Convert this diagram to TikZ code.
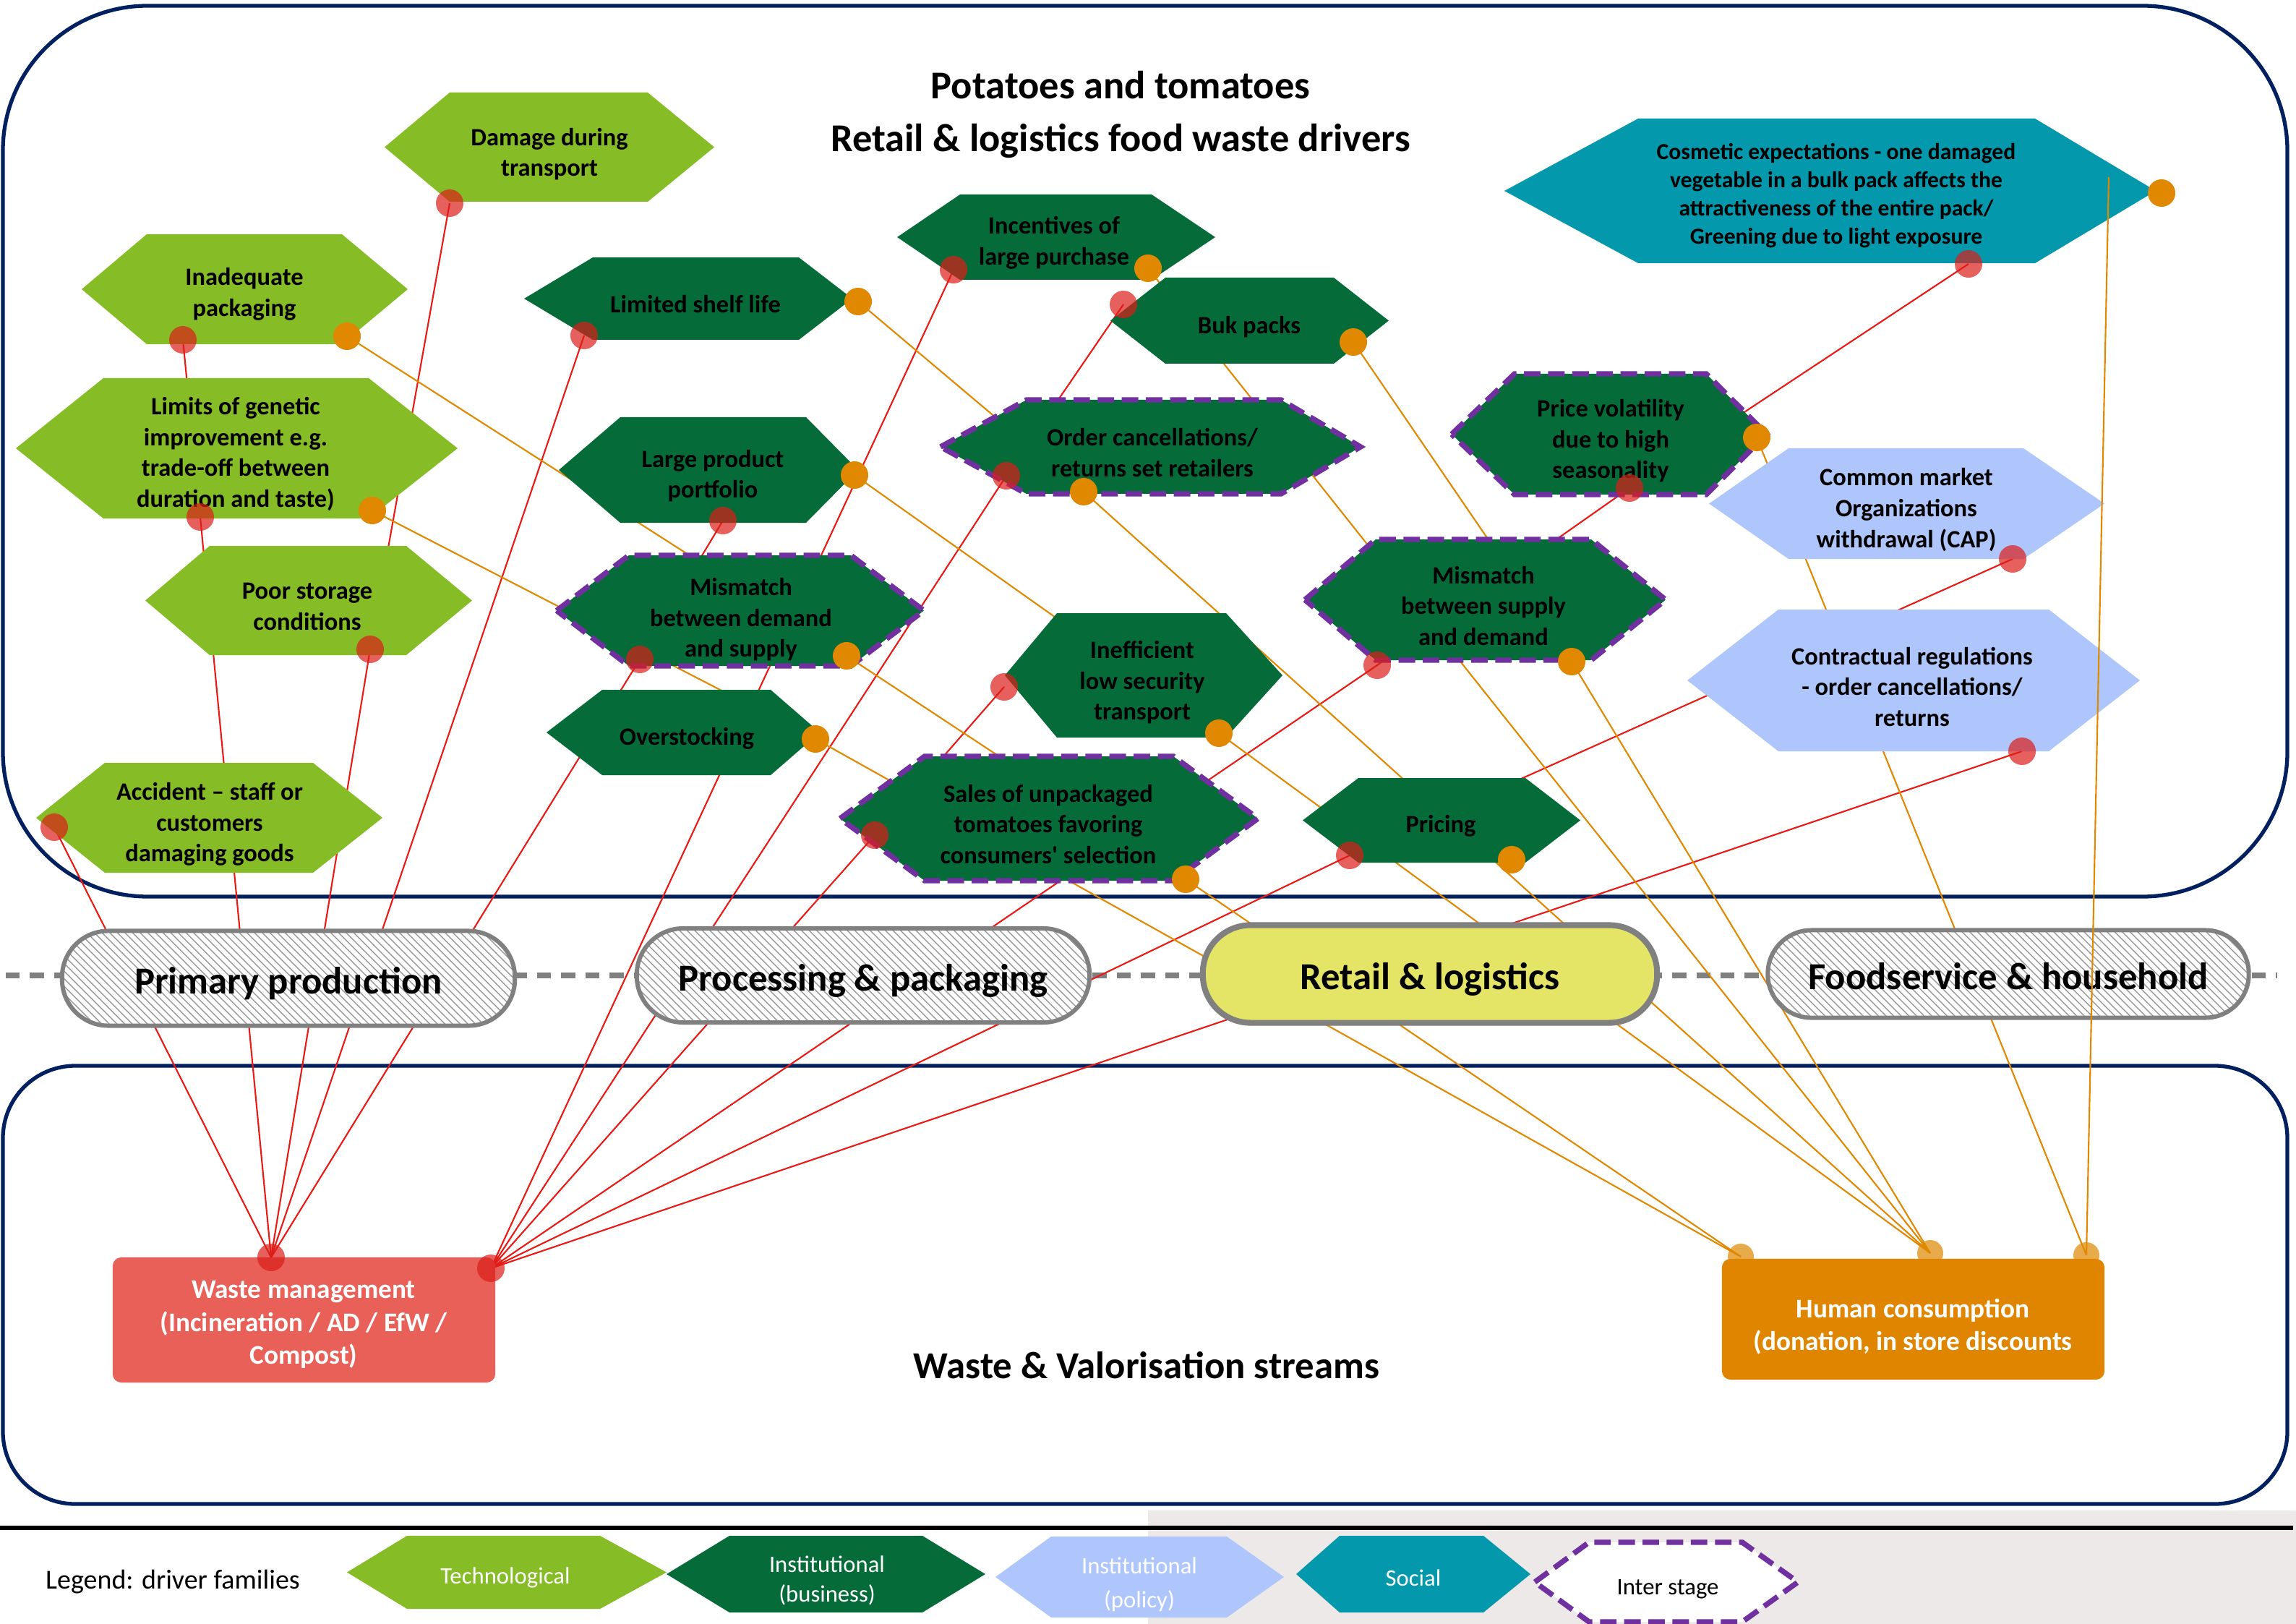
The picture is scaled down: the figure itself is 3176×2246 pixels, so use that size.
\documentclass[tikz,border=0pt]{standalone}
\usepackage{fontspec}
\setmainfont{Carlito}
\usetikzlibrary{patterns}
\definecolor{tech}{RGB}{134,188,37}
\definecolor{bus}{RGB}{5,108,57}
\definecolor{pol}{RGB}{174,198,252}
\definecolor{soc}{RGB}{3,152,171}
\definecolor{navy}{RGB}{0,32,96}
\definecolor{purp}{RGB}{112,48,160}
\definecolor{dotred}{RGB}{220,30,25}
\definecolor{dotor}{RGB}{223,136,0}
\definecolor{linered}{RGB}{235,25,20}
\definecolor{lineor}{RGB}{224,136,0}
\definecolor{wastec}{RGB}{232,96,88}
\definecolor{humanc}{RGB}{223,133,0}
\definecolor{retailc}{RGB}{228,228,102}
\definecolor{legbg}{RGB}{237,233,232}
\definecolor{stagegray}{RGB}{128,128,128}
\pgfdeclarelayer{bgl}
\pgfdeclarelayer{linel}
\pgfdeclarelayer{hexl}
\pgfsetlayers{bgl,linel,hexl,main}
\newcommand\hexa[7]{\path[#1] (#2,{(#6+#7)/2}) -- (#3,#6) -- (#4,#6) -- (#5,{(#6+#7)/2}) -- (#4,#7) -- (#3,#7) -- cycle;}
\tikzset{
 techhex/.style={fill=tech},
 bushex/.style={fill=bus},
 polhex/.style={fill=pol},
 sochex/.style={fill=soc},
 interhex/.style={draw=purp, line width=2.1pt, dash pattern=on 6.5pt off 3pt},
 hextext/.style={font=\bfseries\fontsize{9.8}{12.1}\selectfont, align=center, inner sep=0pt, text=black},
 legtext/.style={font=\fontsize{9.3}{11.5}\selectfont, align=center, inner sep=0pt, text=white},
 rdot/.style={circle, fill=dotred, fill opacity=0.7, minimum size=0.38cm, inner sep=0pt},
 odot/.style={circle, fill=dotor, minimum size=0.38cm, inner sep=0pt},
 hdot/.style={circle, fill=dotor, fill opacity=0.7, minimum size=0.36cm, inner sep=0pt},
 rline/.style={draw=linered, line width=0.6pt},
 oline/.style={draw=lineor, line width=0.6pt},
 stagefont/.style={font=\bfseries\fontsize{15}{18}\selectfont, text height=0.55cm, text depth=0.13cm},
 stagebox/.style={draw=stagegray, line width=1.7pt, rounded corners=0.64cm, preaction={fill=white}, pattern=north west lines, pattern color=gray!80, stagefont, inner sep=0pt},
 outbox/.style={rounded corners=0.12cm, inner sep=0pt},
 outtext/.style={text=white, font=\bfseries\fontsize{10.6}{12.9}\selectfont, align=center, inner sep=0pt},
}
\begin{document}
\begin{tikzpicture}[x=0.01cm,y=-0.01cm]
\useasboundingbox (0,0) rectangle (3176,2246);
\begin{pgfonlayer}{bgl}
 \fill[white] (0,0) rectangle (3176,2246);
 \fill[legbg] (1588,2089) rectangle (3176,2246);
 \draw[navy, line width=1.5pt, rounded corners=2cm] (4,8) rectangle (3164,1240);
 \draw[navy, line width=1.5pt, rounded corners=1cm] (4,1474) rectangle (3164,2080);
 \draw[stagegray, line width=2pt, dash pattern=on 5.5pt off 4pt] (8,1349) -- (3150,1349);
 \draw[black, line width=1.6pt] (0,2113) -- (3172,2113);
\end{pgfonlayer}

% titles
\node[font=\bfseries\fontsize{15.5}{21}\selectfont, anchor=base] (title1) at (1550,137) {Potatoes and tomatoes};
\node[font=\bfseries\fontsize{15.5}{21}\selectfont, anchor=base] (title2) at (1550,210) {Retail \& logistics food waste drivers};

% end points
\coordinate (A) at (375,1739);
\coordinate (B) at (679,1754);
\coordinate (H1) at (2408,1738);
\coordinate (H2) at (2670,1733);
\coordinate (H3) at (2886,1736);
\coordinate (cosTop) at (2917,245);

% hexagons
\begin{pgfonlayer}{hexl}
 \hexa{techhex}{532}{622}{896}{988}{128}{279}
 \hexa{techhex}{113}{203}{473}{564}{324}{476}
 \hexa{techhex}{22}{143}{510}{633}{523}{717}
 \hexa{techhex}{201}{290}{562}{653}{755}{906}
 \hexa{techhex}{50}{145}{433}{529}{1055}{1207}
 \hexa{bushex}{725}{820}{1105}{1179}{356}{470}
 \hexa{bushex}{1241}{1328}{1593}{1681}{269}{387}
 \hexa{bushex}{1536}{1612}{1845}{1921}{384}{503}
 \hexa{bushex}{773}{858}{1115}{1187}{577}{723}
 \hexa{bushex,interhex}{1301}{1420}{1772}{1882}{553}{683}
 \hexa{bushex,interhex}{770}{870}{1177}{1278}{768}{921}
 \hexa{bushex}{756}{833}{1066}{1134}{954}{1072}
 \hexa{bushex}{1390}{1462}{1696}{1774}{848}{1020}
 \hexa{bushex,interhex}{1162}{1279}{1623}{1740}{1046}{1218}
 \hexa{bushex,interhex}{1805}{1903}{2201}{2304}{746}{913}
 \hexa{bushex}{1802}{1879}{2110}{2186}{1076}{1193}
 \hexa{bushex,interhex}{2008}{2095}{2360}{2444}{517}{684}
 \hexa{sochex}{2081}{2266}{2815}{2982}{164}{364}
 \hexa{polhex}{2364}{2474}{2799}{2911}{620}{773}
 \hexa{polhex}{2334}{2460}{2834}{2960}{843}{1039}
 % legend
 \hexa{techhex}{480}{563}{830}{922}{2124}{2225}
 \hexa{bushex}{922}{1009}{1276}{1363}{2124}{2230}
 \hexa{polhex}{1377}{1454}{1697}{1776}{2125}{2237}
 \hexa{sochex}{1793}{1853}{2052}{2117}{2124}{2230}
 \hexa{fill=white,interhex}{2123}{2198}{2410}{2487}{2133}{2243}
\end{pgfonlayer}

% hexagon texts
\node[hextext] (t-dmg) at (760,213) {Damage during\\transport};
\node[hextext] (t-inad) at (338,407) {Inadequate\\packaging};
\node[hextext] (t-lim) at (326,628) {Limits of genetic\\improvement e.g.\\trade-off between\\duration and taste)};
\node[hextext] (t-poor) at (425,839) {Poor storage\\conditions};
\node[hextext] (t-acc) at (290,1140) {Accident – staff or\\customers\\damaging goods};
\node[hextext] (t-shelf) at (962,421) {Limited shelf life};
\node[hextext] (t-inc) at (1458,336) {Incentives of\\large purchase};
\node[hextext] (t-buk) at (1728,452) {Buk packs};
\node[hextext] (t-large) at (986,658) {Large product\\portfolio};
\node[hextext] (t-order) at (1594,626) {Order cancellations/\\returns set retailers};
\node[hextext] (t-mmL) at (1025,857) {Mismatch\\between demand\\and supply};
\node[hextext] (t-over) at (950,1021) {Overstocking};
\node[hextext] (t-ineff) at (1580,944) {Inefficient\\low security\\transport};
\node[hextext] (t-sales) at (1450,1140) {Sales of unpackaged\\tomatoes favoring\\consumers\textquotesingle{} selection};
\node[hextext] (t-mmR) at (2052,838) {Mismatch\\between supply\\and demand};
\node[hextext] (t-pricing) at (1993,1142) {Pricing};
\node[hextext] (t-pv) at (2228,610) {Price volatility\\due to high\\seasonality};
\node[hextext, font=\bfseries\fontsize{9}{11.1}\selectfont] (t-cos) at (2540,271) {Cosmetic expectations - one damaged\\vegetable in a bulk pack affects the\\attractiveness of the entire pack/\\Greening due to light exposure};
\node[hextext] (t-cap) at (2637,705) {Common market\\Organizations\\withdrawal (CAP)};
\node[hextext] (t-contr) at (2645,950) {Contractual regulations\\- order cancellations/\\returns};

% dots
\node[rdot] (r-dmg) at (622,281) {};
\node[rdot] (r-inad) at (253,470) {};
\node[rdot] (r-lim) at (277,715) {};
\node[rdot] (r-poor) at (512,898) {};
\node[rdot] (r-acc) at (75,1144) {};
\node[rdot] (r-shelf) at (808,464) {};
\node[rdot] (r-inc) at (1319,373) {};
\node[rdot] (r-buk) at (1554,421) {};
\node[rdot] (r-large) at (1000,720) {};
\node[rdot] (r-order) at (1392,658) {};
\node[rdot] (r-mmL) at (885,912) {};
\node[rdot] (r-ineff) at (1389,950) {};
\node[rdot] (r-sales) at (1210,1155) {};
\node[rdot] (r-mmR) at (1905,920) {};
\node[rdot] (r-pricing) at (1867,1183) {};
\node[rdot] (r-pv) at (2254,675) {};
\node[rdot] (r-cos) at (2723,365) {};
\node[rdot] (r-cap) at (2784,773) {};
\node[rdot] (r-contr) at (2797,1039) {};
\node[odot] (o-inad) at (480,465) {};
\node[odot] (o-lim) at (515,706) {};
\node[odot] (o-shelf) at (1187,417) {};
\node[odot] (o-inc) at (1588,371) {};
\node[odot] (o-buk) at (1872,473) {};
\node[odot] (o-large) at (1182,657) {};
\node[odot] (o-order) at (1499,680) {};
\node[odot] (o-mmL) at (1171,907) {};
\node[odot] (o-over) at (1128,1022) {};
\node[odot] (o-ineff) at (1686,1014) {};
\node[odot] (o-sales) at (1640,1216) {};
\node[odot] (o-mmR) at (2174,915) {};
\node[odot] (o-pricing) at (2091,1189) {};
\node[odot] (o-pv) at (2430,605) {};
\node[odot] (o-cos) at (2990,267) {};

% connectors
\begin{pgfonlayer}{linel}
 \draw[rline] (r-inad.center) -- (r-lim.center) -- (A);
 \draw[rline] (r-dmg.center) -- (r-poor.center) -- (A);
 \draw[rline] (r-acc.center) -- (A);
 \draw[rline] (r-shelf.center) -- (A);
 \draw[rline] (r-large.center) -- (r-mmL.center) -- (A);
 \draw[rline] (r-inc.center) -- (B);
 \draw[rline] (r-buk.center) -- (r-order.center) -- (B);
 \draw[rline] (r-ineff.center) -- (r-sales.center) -- (B);
 \draw[rline] (r-cos.center) -- (r-pv.center) -- (r-mmR.center) -- (B);
 \draw[rline] (r-cap.center) -- (r-pricing.center) -- (B);
 \draw[rline] (r-contr.center) -- (B);
 \draw[oline] (o-inad.center) -- (o-mmL.center) -- (o-sales.center) -- (H1);
 \draw[oline] (o-lim.center) -- (o-over.center) -- (H1);
 \draw[oline] (o-shelf.center) -- (o-order.center) -- (H2);
 \draw[oline] (o-inc.center) -- (H2);
 \draw[oline] (o-buk.center) -- (o-mmR.center) -- (H2);
 \draw[oline] (o-large.center) -- (o-ineff.center) -- (H2);
 \draw[oline] (o-pv.center) -- (H3);
\end{pgfonlayer}

% stages
\node[stagebox, minimum width=6.26cm, minimum height=1.31cm] (pp) at (399,1353) {Primary production};
\node[stagebox, minimum width=6.26cm, minimum height=1.30cm] (proc) at (1194,1349) {Processing \& packaging};
\node[draw=stagegray, line width=2.3pt, rounded corners=0.66cm, fill=retailc, stagefont, inner sep=0pt, minimum width=6.28cm, minimum height=1.35cm] (retail) at (1978,1347) {Retail \& logistics};
\node[stagebox, rounded corners=0.6cm, minimum width=6.65cm, minimum height=1.21cm] (food) at (2778,1347) {Foodservice \& household};

\draw[oline] (cosTop) -- (H3);

% outputs
\node[outbox, fill=wastec, minimum width=5.29cm, minimum height=1.73cm] (waste) at (420.5,1825.5) {};
\node[outtext] (waste-t) at (420,1832) {Waste management\\(Incineration / AD / EfW /\\Compost)};
\node[rdot] (dA) at (A) {};
\node[rdot] (dB) at (B) {};
\node[hdot] (dH1) at (H1) {};
\node[hdot] (dH2) at (H2) {};
\node[hdot] (dH3) at (H3) {};
\node[outbox, fill=humanc, minimum width=5.29cm, minimum height=1.67cm] (human) at (2646.5,1824.5) {};
\node[outtext] (human-t) at (2646,1835) {Human consumption\\(donation, in store discounts};
\node[font=\bfseries\fontsize{15}{18}\selectfont] (streams) at (1586,1888) {Waste \& Valorisation streams};

% legend
\node[font=\fontsize{10.8}{13}\selectfont] (leg) at (239,2188) {Legend: driver families};
\node[legtext] (leg-tech) at (699,2182) {Technological};
\node[legtext] (leg-bus) at (1144,2186) {Institutional\\(business)};
\node[legtext, font=\fontsize{9.3}{13.5}\selectfont] (leg-pol) at (1576,2191) {Institutional\\(policy)};
\node[legtext] (leg-soc) at (1955,2182) {Social};
\node[legtext, text=black] (leg-int) at (2307,2198) {Inter stage};
\end{tikzpicture}
\end{document}
